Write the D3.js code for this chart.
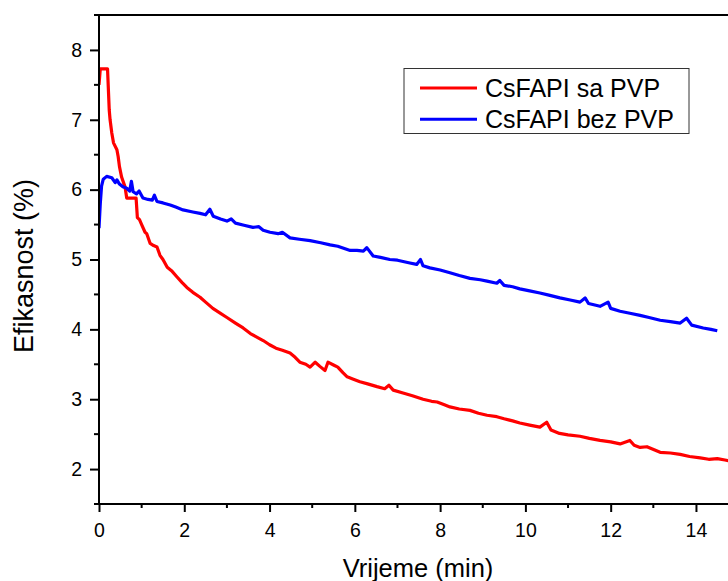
<!DOCTYPE html>
<html><head><meta charset="utf-8">
<script src="https://cdn.jsdelivr.net/npm/d3@7"></script>
<style>body{margin:0;background:#fff}svg{display:block}text{font-family:Arial,"Liberation Sans",sans-serif;fill:#000}</style>
</head><body><svg id="c" width="728" height="581"></svg>
<script>
const seriesNames = ["CsFAPI sa PVP", "CsFAPI bez PVP"];
const seriesColors = ["#ff0000", "#0000ff"];
const xTicks = [0, 2, 4, 6, 8, 10, 12, 14];
const yTicks = [2, 3, 4, 5, 6, 7, 8];
const xLabel = "Vrijeme (min)";
const yLabel = "Efikasnost (%)";

const redX = [0,0.03,0.2,0.24,0.26,0.3,0.34,0.42,0.45,0.48,0.53,0.61,0.65,0.87,0.9,0.95,1.0,1.08,1.12,1.2,1.28,1.36,1.43,1.5,1.6,1.7,1.83,1.95,2.06,2.2,2.37,2.5,2.67,2.85,3.0,3.2,3.38,3.55,3.7,3.85,4.0,4.15,4.3,4.48,4.6,4.71,4.85,4.95,5.07,5.18,5.3,5.37,5.5,5.6,5.72,5.82,5.95,6.12,6.3,6.52,6.7,6.8,6.9,7.13,7.35,7.6,7.8,7.93,8.1,8.23,8.45,8.7,8.9,9.1,9.33,9.5,9.7,9.87,10.1,10.34,10.5,10.6,10.8,11.0,11.28,11.5,11.75,12.0,12.22,12.45,12.55,12.69,12.85,13.16,13.4,13.63,13.85,14.1,14.3,14.5,14.68,14.85,15.0];
const redY = [7.5,7.73,7.73,7.14,7.0,6.81,6.67,6.57,6.47,6.33,6.18,6.04,5.88,5.88,5.6,5.57,5.5,5.39,5.37,5.23,5.2,5.18,5.06,5.0,4.89,4.84,4.75,4.67,4.6,4.53,4.46,4.39,4.3,4.23,4.17,4.09,4.02,3.94,3.89,3.84,3.78,3.73,3.70,3.66,3.6,3.53,3.5,3.46,3.53,3.47,3.41,3.53,3.49,3.46,3.38,3.32,3.29,3.25,3.22,3.18,3.15,3.20,3.13,3.09,3.05,3.0,2.97,2.96,2.92,2.89,2.86,2.84,2.80,2.77,2.75,2.72,2.69,2.66,2.63,2.6,2.67,2.56,2.51,2.49,2.47,2.44,2.41,2.39,2.36,2.41,2.34,2.31,2.32,2.24,2.23,2.21,2.18,2.16,2.14,2.15,2.13,2.11,2.09];

const blueX = [0,0.03,0.06,0.1,0.18,0.3,0.38,0.42,0.48,0.56,0.65,0.72,0.76,0.8,0.88,0.94,1.03,1.15,1.25,1.3,1.36,1.5,1.67,1.8,1.97,2.2,2.37,2.5,2.6,2.68,2.85,3.0,3.1,3.2,3.4,3.61,3.75,3.85,4.01,4.2,4.3,4.48,4.7,4.95,5.2,5.42,5.6,5.89,6.05,6.2,6.28,6.43,6.6,6.82,7.0,7.29,7.45,7.54,7.6,7.76,8.0,8.23,8.45,8.7,8.94,9.1,9.33,9.4,9.5,9.7,9.87,10.1,10.34,10.55,10.81,11.05,11.28,11.4,11.48,11.75,11.94,12.0,12.22,12.45,12.69,12.9,13.16,13.4,13.63,13.78,13.9,14.17,14.35,14.5];
const blueY = [5.45,5.8,6.05,6.15,6.19,6.17,6.1,6.14,6.08,6.04,6.02,5.98,6.12,5.97,5.94,5.98,5.88,5.86,5.85,5.92,5.83,5.81,5.78,5.75,5.71,5.68,5.66,5.64,5.72,5.62,5.58,5.55,5.58,5.52,5.49,5.46,5.47,5.42,5.39,5.37,5.39,5.31,5.29,5.27,5.24,5.21,5.19,5.13,5.13,5.12,5.17,5.05,5.03,5.0,4.99,4.95,4.93,5.0,4.91,4.88,4.85,4.81,4.77,4.73,4.71,4.69,4.66,4.70,4.63,4.61,4.58,4.55,4.52,4.49,4.45,4.42,4.39,4.45,4.37,4.33,4.39,4.3,4.26,4.23,4.20,4.17,4.13,4.11,4.09,4.16,4.06,4.02,4.0,3.98];

const svg = d3.select("#c");
const x0 = 99, yTop = 15, yBot = 504;
const x = d3.scaleLinear().domain([0, 15]).range([x0, x0 + 15 * 42.64]);
const y = d3.scaleLinear().domain([1.5, 8.5]).range([yBot, yTop]);

const xMinor = d3.range(1, 15, 2);
const yMinor = [1.5,2.5,3.5,4.5,5.5,6.5,7.5,8.5];

svg.append("clipPath").attr("id","cp").append("rect")
  .attr("x", x0).attr("y", yTop).attr("width", 728 - x0).attr("height", yBot - yTop);

const data = [redX.map((v,i)=>[v, redY[i]]), blueX.map((v,i)=>[v, blueY[i]])];
const line = d3.line().x(d=>x(d[0])).y(d=>y(d[1]));
svg.append("g").attr("clip-path","url(#cp)").selectAll("path").data(data).join("path")
  .attr("d", line).attr("fill","none").attr("stroke",(d,i)=>seriesColors[i])
  .attr("stroke-width",3.2).attr("stroke-linejoin","round");

// bottom axis
const gx = svg.append("g").attr("transform",`translate(0,${yBot})`)
  .call(d3.axisBottom(x).tickValues(xTicks).tickSize(8).tickSizeOuter(0).tickFormat(d3.format("d")));
gx.append("g").selectAll("line").data(xMinor).join("line")
  .attr("x1",d=>x(d)).attr("x2",d=>x(d)).attr("y1",0).attr("y2",4).attr("stroke","#000");
gx.select(".domain").attr("d", `M94,0H728`);
gx.selectAll("line").attr("stroke-width",2);
gx.selectAll(".domain").attr("stroke-width",2);
gx.selectAll("text").attr("font-size",19.5).attr("y",33).attr("dy",0);

// left axis
const gy = svg.append("g").attr("transform",`translate(${x0},0)`)
  .call(d3.axisLeft(y).tickValues(yTicks).tickSize(9).tickSizeOuter(0).tickFormat(d3.format("d")));
gy.append("g").selectAll("line").data(yMinor).join("line")
  .attr("x1",0).attr("x2",-5).attr("y1",d=>y(d)).attr("y2",d=>y(d)).attr("stroke","#000");
gy.select(".domain").attr("d", `M0,${yTop}V${yBot+1}`);
gy.selectAll("line").attr("stroke-width",2);
gy.selectAll(".domain").attr("stroke-width",2);
gy.selectAll("text").attr("font-size",19.5).attr("x",-17);

// top frame line
svg.append("line").attr("x1",94).attr("x2",728).attr("y1",yTop).attr("y2",yTop)
  .attr("stroke","#000").attr("stroke-width",2);

// axis titles
svg.append("text").attr("x", 418).attr("y", 577).attr("text-anchor","middle")
  .attr("font-size",25.5).text(xLabel);
svg.append("text").attr("transform","translate(33,266) rotate(-90)").attr("text-anchor","middle")
  .attr("font-size",27).text(yLabel);

// legend
const lg = svg.append("g");
lg.append("rect").attr("x",404).attr("y",68.5).attr("width",285).attr("height",65)
  .attr("fill","#fff").attr("stroke","#333").attr("stroke-width",1);
seriesNames.forEach((n,i)=>{
  const yy = 88 + i*31.3;
  lg.append("line").attr("x1",420).attr("x2",477).attr("y1",yy).attr("y2",yy)
    .attr("stroke",seriesColors[i]).attr("stroke-width",3);
  lg.append("text").attr("x",485).attr("y",yy+8.5).attr("font-size",25).text(n);
});
</script></body></html>
